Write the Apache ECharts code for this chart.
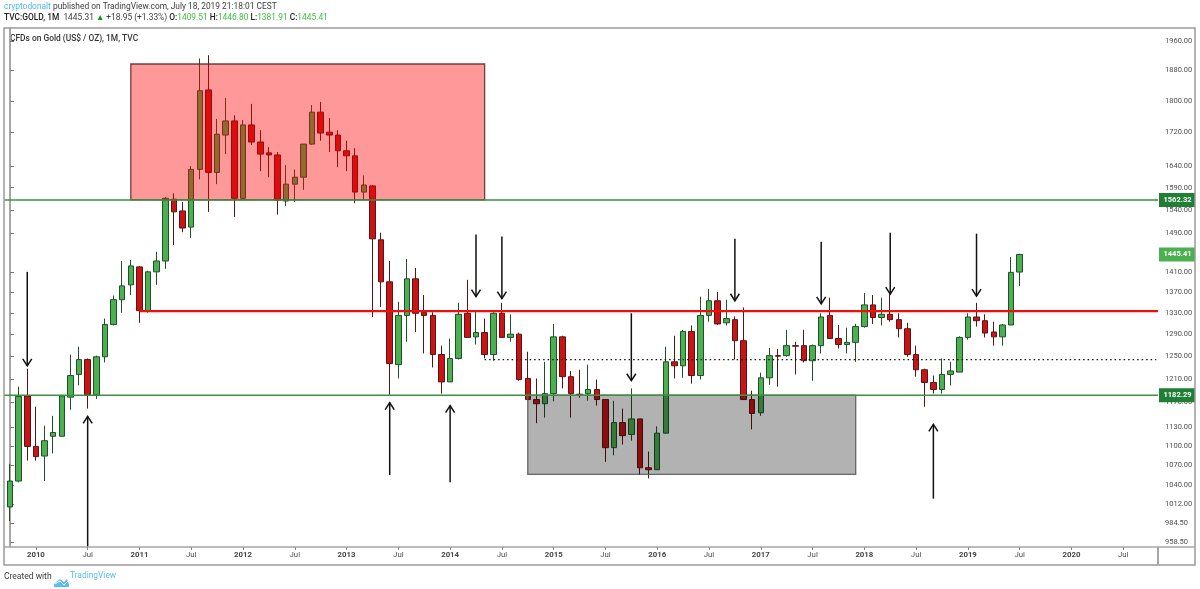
<!DOCTYPE html>
<html>
<head>
    <meta charset="utf-8">
    <title>CFDs on Gold (US$ / OZ), 1M, TVC</title>
    <script src="https://cdn.jsdelivr.net/npm/echarts@6/dist/echarts.min.js"></script>
    <style>
        html, body { margin: 0; padding: 0; background: #fff; }
        #chart { width: 1200px; height: 589px; }
    </style>
</head>
<body>
<div id="chart"></div>
<script>
    // monthly candles, first one is Oct 2009, last one Jul 2019
    var opens = [1008,1046,1181,1099,1084,1115,1115,1179,1218,1244,1183,1249,1308,1355,1384,1420,1333,1410,1432,1564,1538,1503,1632,1828,1625,1714,1749,1566,1739,1697,1671,1666,1560,1598,1614,1692,1771,1721,1714,1676,1664,1580,1594,1476,1390,1235,1325,1396,1331,1325,1253,1205,1246,1329,1285,1293,1253,1329,1284,1290,1211,1175,1168,1185,1285,1214,1184,1185,1192,1175,1097,1137,1118,1143,1066,1063,1120,1240,1233,1295,1216,1325,1353,1311,1317,1278,1175,1153,1212,1251,1251,1269,1269,1242,1269,1325,1282,1271,1275,1304,1345,1321,1327,1317,1300,1253,1226,1204,1192,1218,1222,1284,1322,1315,1294,1285,1307,1409.51];
    var closes = [1046,1180,1099,1083,1108,1121,1181,1216,1244,1183,1249,1308,1355,1382,1422,1334,1410,1432,1566,1536,1501,1632,1826,1625,1716,1749,1566,1739,1697,1668,1666,1562,1598,1614,1692,1771,1719,1714,1676,1664,1580,1596,1478,1390,1237,1325,1396,1329,1325,1253,1205,1246,1327,1284,1293,1253,1329,1284,1290,1209,1175,1168,1185,1285,1214,1185,1183,1192,1175,1097,1137,1116,1143,1066,1063,1120,1240,1233,1295,1216,1325,1353,1309,1319,1278,1175,1152,1212,1251,1250,1269,1268,1242,1269,1322,1282,1271,1275,1304,1345,1321,1327,1317,1300,1253,1226,1204,1192,1218,1224,1284,1322,1315,1292,1285,1307,1409,1445.41];
    var lows = [988,1044,1077,1077,1046,1088,1115,1158,1199,1160,1176,1239,1306,1330,1364,1311,1330,1384,1416,1465,1492,1480,1609,1536,1598,1668,1525,1564,1690,1628,1614,1530,1549,1558,1585,1690,1700,1673,1637,1628,1555,1562,1322,1341,1183,1211,1276,1294,1255,1230,1185,1205,1244,1284,1271,1246,1242,1284,1276,1207,1175,1136,1145,1172,1194,1145,1178,1173,1165,1075,1085,1102,1108,1055,1050,1063,1120,1211,1212,1202,1209,1313,1307,1306,1244,1175,1126,1148,1200,1197,1249,1218,1239,1207,1255,1282,1264,1255,1240,1302,1309,1306,1313,1284,1249,1214,1163,1185,1185,1199,1222,1280,1304,1284,1269,1269,1307,1381.91];
    var highs = [1072,1197,1228,1163,1132,1148,1183,1253,1267,1246,1251,1319,1363,1432,1434,1422,1412,1451,1569,1577,1558,1640,1912,1921,1754,1807,1763,1751,1792,1726,1685,1673,1642,1632,1692,1789,1797,1756,1726,1700,1682,1618,1596,1491,1432,1351,1436,1418,1364,1331,1269,1282,1349,1394,1332,1319,1331,1349,1327,1293,1258,1211,1240,1309,1287,1224,1226,1235,1209,1175,1173,1160,1194,1143,1091,1131,1267,1287,1298,1306,1361,1376,1370,1355,1323,1340,1190,1221,1265,1263,1298,1276,1298,1271,1329,1359,1307,1302,1309,1368,1364,1359,1366,1329,1311,1269,1228,1216,1246,1240,1286,1329,1349,1327,1313,1309,1440,1446.80];

    // y axis ticks are in log spacing as on the chart
    var priceTicks = [1960,1880,1800,1720,1640,1590,1540,1490,1410,1370,1330,1290,1250,1210,1170,1130,1100,1070,1040,1012,984.5,958.5];
    // x axis ticks are candle numbers, Jan 2010 = 3
    var timeTicks = [3,9,15,21,27,33,39,45,51,57,63,69,75,81,87,93,99,105,111,117,123,129];
    var timeLabels = ['2010','Jul','2011','Jul','2012','Jul','2013','Jul','2014','Jul','2015','Jul','2016','Jul','2017','Jul','2018','Jul','2019','Jul','2020','Jul'];

    // drawings, all in candle number / price
    var boxFrom = [14, 60];
    var boxTo = [55, 98];
    var boxTop = [1897, 1182.29];
    var boxBottom = [1562.32, 1056];
    var arrowAt = [2, 9, 44, 51, 54, 57, 72, 84, 94, 102, 112, 107];
    var arrowTail = [1410, 953, 1055, 1044, 1487, 1483, 1329, 1478, 1472, 1491, 1489, 1020];
    var arrowTip = [1233, 1147, 1170, 1165, 1361, 1357, 1207, 1353, 1347, 1366, 1362, 1134];
    var tagPrices = [1562.32, 1445.41, 1182.29];

    var xMin = -0.695, xMax = 133.03;
    var levelFrom = [xMin, xMin, 15, 55];
    var levelTo = [xMax, xMax, xMax, xMax - 0.2];
    var levelPrice = [1562.32, 1182.29, 1333, 1244];

    var FONT = 'Roboto, "Noto Sans", sans-serif';

    function levelItem(params, api) {
        var a = api.coord([api.value(0), api.value(2)]);
        var b = api.coord([api.value(1), api.value(2)]);
        var i = params.dataIndex;
        var style = { stroke: '#3d9142', lineWidth: 1.5 };
        if (i === 2) style = { stroke: '#f50d0d', lineWidth: 2.2 };
        if (i === 3) style = { stroke: '#111', lineWidth: 1.2, lineDash: [1.5, 3] };
        return { type: 'line', shape: { x1: a[0], y1: a[1], x2: b[0], y2: b[1] }, style: style };
    }

    function boxItem(params, api) {
        var a = api.coord([api.value(0), api.value(2)]);
        var b = api.coord([api.value(1), api.value(3)]);
        var red = params.dataIndex === 0;
        return {
            type: 'rect',
            shape: { x: a[0], y: a[1], width: b[0] - a[0], height: b[1] - a[1] },
            style: {
                fill: red ? 'rgba(255,0,0,0.4)' : 'rgba(0,0,0,0.3)',
                stroke: red ? 'rgba(80,40,40,0.85)' : 'rgba(90,90,90,0.9)',
                lineWidth: 1.3
            }
        };
    }

    function arrowItem(params, api) {
        var tail = api.coord([api.value(0), api.value(1)]);
        var tip = api.coord([api.value(0), api.value(2)]);
        var d = tip[1] > tail[1] ? -7 : 7;
        var style = { stroke: '#111', lineWidth: 1.5, fill: null };
        return {
            type: 'group',
            children: [
                { type: 'line', shape: { x1: tail[0], y1: tail[1], x2: tip[0], y2: tip[1] }, style: style },
                { type: 'polyline', shape: { points: [[tip[0] - 4.5, tip[1] + d], [tip[0], tip[1]], [tip[0] + 4.5, tip[1] + d]] }, style: style }
            ]
        };
    }

    function tagItem(params, api) {
        var p = api.coord([xMax, api.value(0)]);
        var current = params.dataIndex === 1;
        return {
            type: 'group',
            children: [
                { type: 'rect', shape: { x: p[0] + 1, y: p[1] - 7, width: 36, height: 14 }, style: { fill: current ? '#4caf50' : '#1f7f35' } },
                { type: 'text', style: { x: p[0] + 19.5, y: p[1], text: api.value(0).toFixed(2), fill: '#fff', font: 'bold 7.5px ' + FONT, align: 'center', verticalAlign: 'middle' } }
            ]
        };
    }

    var chart = echarts.init(document.getElementById('chart'), null, { renderer: 'canvas' });

    chart.setOption({
        animation: false,
        backgroundColor: '#fff',
        grid: { left: 4, right: 42, top: 28, bottom: 42, containLabel: false, outerBoundsMode: 'none' },
        xAxis: {
            type: 'value',
            min: xMin,
            max: xMax,
            containShape: false,
            splitLine: { show: false },
            axisLine: { onZero: false, lineStyle: { color: '#a6a6a6', width: 1.5 } },
            axisTick: { length: 3, lineStyle: { color: '#888' }, customValues: timeTicks },
            axisLabel: {
                customValues: timeTicks,
                margin: 4,
                fontFamily: FONT,
                fontSize: 7.8,
                color: '#4f4f4f',
                formatter: function (v) {
                    var s = timeLabels[timeTicks.indexOf(v)];
                    return s === 'Jul' ? s : '{y|' + s + '}';
                },
                rich: { y: { fontFamily: FONT, fontSize: 7.8, fontWeight: 'bold', color: '#444' } }
            }
        },
        yAxis: {
            type: 'log',
            position: 'right',
            min: 952,
            max: 1997,
            splitLine: { show: false },
            axisLine: { show: true, lineStyle: { color: '#a6a6a6', width: 2 } },
            axisTick: { show: true, length: 4, lineStyle: { color: '#777' }, customValues: priceTicks },
            axisLabel: {
                customValues: priceTicks,
                margin: 7,
                fontFamily: FONT,
                fontSize: 7.5,
                color: '#4f4f4f',
                formatter: function (v) { return Number(v).toFixed(2); }
            }
        },
        graphic: [
            { type: 'rect', silent: true, z: 100, shape: { x: 4, y: 28, width: 1191, height: 537 }, style: { fill: null, stroke: '#9a9a9a', lineWidth: 1.5 } },
            { type: 'line', silent: true, z: 100, shape: { x1: 1158, y1: 547, x2: 1158, y2: 565 }, style: { stroke: '#a6a6a6', lineWidth: 2 } },
            { type: 'line', silent: true, z: 100, shape: { x1: 1158, y1: 547, x2: 1195, y2: 547 }, style: { stroke: '#a6a6a6', lineWidth: 1.5 } },
            {
                type: 'text', silent: true, x: 4, y: 3,
                style: {
                    text: '{a|cryptodonalt} published on TradingView.com, July 18, 2019 21:18:01 CEST',
                    font: '8.4px ' + FONT, fill: '#3c3c3c',
                    rich: { a: { fill: '#4db6e8', font: '8.4px ' + FONT } }
                }
            },
            {
                type: 'text', silent: true, x: 4, y: 14,
                style: {
                    text: '{b|TVC:GOLD, 1M}  1445.31 {g|▲} +18.95 (+1.33%) {b|O:}{n|1409.51} {b|H:}{n|1446.80} {b|L:}{n|1381.91} {b|C:}{n|1445.41}',
                    font: '8.4px ' + FONT, fill: '#3c3c3c',
                    rich: {
                        b: { fill: '#222', font: '500 8.4px ' + FONT },
                        g: { fill: '#0a9a1a', font: '8.4px ' + FONT },
                        n: { fill: '#3fbf3f', font: '8.4px ' + FONT }
                    }
                }
            },
            { type: 'text', silent: true, x: 10, y: 35, style: { text: 'CFDs on Gold (US$ / OZ), 1M, TVC', font: '500 8.4px ' + FONT, fill: '#333' } },
            { type: 'text', silent: true, x: 4, y: 572, style: { text: 'Created with', font: '8.5px ' + FONT, fill: '#3c3c3c' } },
            { type: 'polygon', silent: true, shape: { points: [[54,587],[54,584],[60,579],[64,582],[67,579],[69,584],[69,587]] }, style: { fill: '#5bbfee' } },
            { type: 'polyline', silent: true, shape: { points: [[55,584],[60,581],[64,585],[68,581]] }, style: { stroke: '#fff', lineWidth: 1, fill: null } },
            { type: 'text', silent: true, x: 70, y: 572, style: { text: 'TradingView', font: '8.4px ' + FONT, fill: '#5bbfee' } }
        ],
        series: [
            {
                type: 'candlestick',
                z: 2,
                barWidth: 6,
                encode: { x: 0, y: [1, 2, 3, 4] },
                itemStyle: {
                    color: '#4caf50',
                    color0: '#c81414',
                    borderColor: '#20502a',
                    borderColor0: '#5a1414',
                    borderColorDoji: '#333',
                    borderWidth: 1
                },
                data: opens.map(function (o, i) { return [i, o, closes[i], lows[i], highs[i]]; })
            },
            {
                type: 'custom',
                z: 4,
                renderItem: boxItem,
                encode: { x: [0, 1], y: [2, 3] },
                data: boxFrom.map(function (f, i) { return [f, boxTo[i], boxTop[i], boxBottom[i]]; })
            },
            {
                type: 'custom',
                z: 5,
                renderItem: levelItem,
                encode: { x: [0, 1], y: 2 },
                data: levelFrom.map(function (f, i) { return [f, levelTo[i], levelPrice[i]]; })
            },
            {
                type: 'custom',
                z: 6,
                renderItem: arrowItem,
                encode: { x: 0, y: [1, 2] },
                data: arrowAt.map(function (a, i) { return [a, arrowTail[i], arrowTip[i]]; })
            },
            {
                type: 'custom',
                z: 7,
                renderItem: tagItem,
                encode: { y: 0 },
                data: tagPrices.map(function (p) { return [p]; })
            }
        ]
    });
</script>
</body>
</html>
